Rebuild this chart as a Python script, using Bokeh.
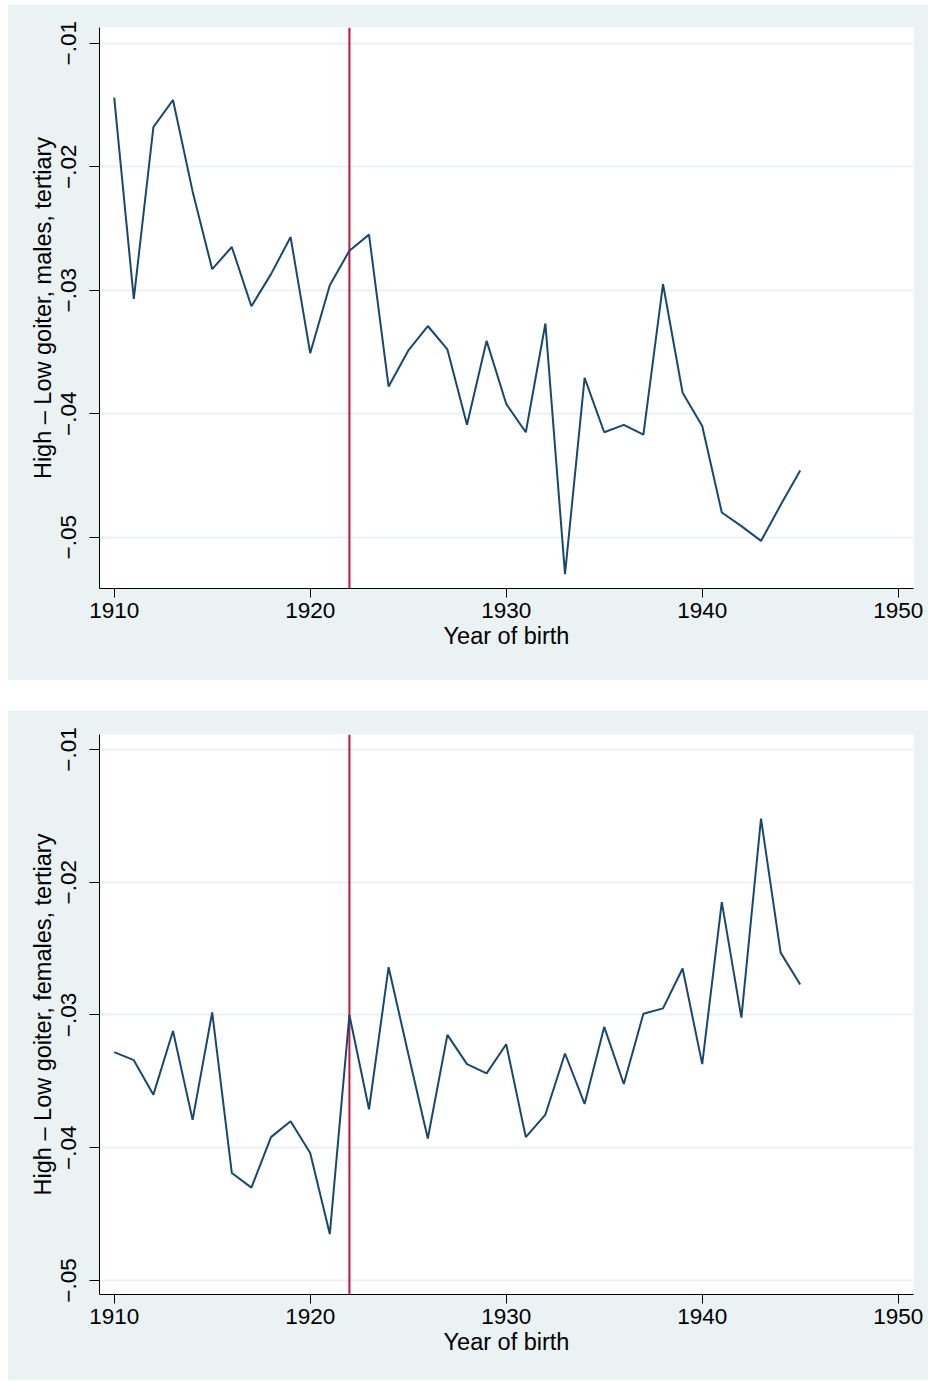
from bokeh.plotting import figure
from bokeh.models import FixedTicker, Span, Range1d
from bokeh.layouts import column
from bokeh.embed import file_html
from bokeh.resources import INLINE

# ---- data ----
years = [1910, 1911, 1912, 1913, 1914, 1915, 1916, 1917, 1918, 1919,
         1920, 1921, 1922, 1923, 1924, 1925, 1926, 1927, 1928, 1929,
         1930, 1931, 1932, 1933, 1934, 1935, 1936, 1937, 1938, 1939,
         1940, 1941, 1942, 1943, 1944, 1945]

males = [-0.0144, -0.0307, -0.0168, -0.0146, -0.0220, -0.0283, -0.0265, -0.0313, -0.0287, -0.0257,
         -0.0351, -0.0296, -0.0268, -0.0255, -0.0378, -0.0349, -0.0329, -0.0348, -0.0409, -0.0341,
         -0.0392, -0.0415, -0.0327, -0.0530, -0.0371, -0.0415, -0.0409, -0.0417, -0.0295, -0.0383,
         -0.0410, -0.0480, -0.0491, -0.0503, -0.0474, -0.0446]

females = [-0.0328, -0.0334, -0.0360, -0.0312, -0.0379, -0.0298, -0.0419, -0.0430, -0.0392, -0.0380,
           -0.0404, -0.0465, -0.0300, -0.0371, -0.0264, -0.0329, -0.0393, -0.0315, -0.0337, -0.0344,
           -0.0322, -0.0392, -0.0375, -0.0329, -0.0367, -0.0309, -0.0352, -0.0299, -0.0295, -0.0265,
           -0.0337, -0.0215, -0.0302, -0.0152, -0.0253, -0.0277]

ref_year = 1922
x_ticks = [1910, 1920, 1930, 1940, 1950]
y_ticks = [-0.05, -0.04, -0.03, -0.02, -0.01]
y_tick_labels = ["\u2212.05", "\u2212.04", "\u2212.03", "\u2212.02", "\u2212.01"]
x_title = "Year of birth"
y_title_m = "High \u2013 Low goiter, males, tertiary"
y_title_f = "High \u2013 Low goiter, females, tertiary"

BG = "#EAF2F3"
NAVY = "#1A476F"
RED = "#C8103C"
FONT = "Liberation Sans"


def make(vals, ytitle, y0, y1, top, frame_h, bottom):
    p = figure(width=921, height=top + frame_h + bottom,
               min_border_left=92, min_border_right=15,
               min_border_top=top, min_border_bottom=bottom,
               frame_width=814, frame_height=frame_h,
               x_range=Range1d(1909.25, 1950.78), y_range=Range1d(y0, y1),
               output_backend="svg", toolbar_location=None)
    p.border_fill_color = BG
    p.background_fill_color = "white"
    p.outline_line_color = None

    p.xgrid.visible = False
    p.ygrid.grid_line_color = BG
    p.ygrid.grid_line_width = 2
    p.ygrid.ticker = FixedTicker(ticks=y_ticks)

    span = Span(location=ref_year, dimension="height", line_color=RED,
                line_width=2, level="underlay")
    p.add_layout(span)

    p.line(years, vals, line_color=NAVY, line_width=2)

    xa = p.xaxis[0]
    xa.ticker = FixedTicker(ticks=x_ticks)
    xa.minor_tick_line_color = None
    xa.major_tick_out = 9
    xa.major_tick_in = 0
    xa.major_label_standoff = 5
    xa.major_label_text_font = FONT
    xa.major_label_text_font_size = "22.5px"
    xa.major_label_text_color = "black"
    xa.axis_label = x_title
    xa.axis_label_text_font = FONT
    xa.axis_label_text_font_size = "23.5px"
    xa.axis_label_text_font_style = "normal"
    xa.axis_label_text_color = "black"
    xa.axis_label_standoff = 2
    xa.axis_line_color = "black"
    xa.major_tick_line_color = "black"

    ya = p.yaxis[0]
    ya.ticker = FixedTicker(ticks=y_ticks)
    ya.major_label_overrides = dict(zip(y_ticks, y_tick_labels))
    ya.major_label_orientation = "vertical"
    ya.minor_tick_line_color = None
    ya.major_tick_out = 10
    ya.major_tick_in = 0
    ya.major_label_standoff = 13
    ya.major_label_text_font = FONT
    ya.major_label_text_font_size = "22.5px"
    ya.major_label_text_color = "black"
    ya.axis_label = ytitle
    ya.axis_label_text_font = FONT
    ya.axis_label_text_font_size = "23.5px"
    ya.axis_label_text_font_style = "normal"
    ya.axis_label_text_color = "black"
    ya.axis_label_standoff = 3
    ya.axis_line_color = "black"
    ya.major_tick_line_color = "black"
    return p


p1 = make(males, y_title_m, -0.054154, -0.008729, 23, 561, 92)
p2 = make(females, y_title_f, -0.051054, -0.008871, 24, 560, 86)

p = column(p1, p2, spacing=30, margin=(4, 0, 0, 7))

open("out.html", "w").write(file_html(p, INLINE))
